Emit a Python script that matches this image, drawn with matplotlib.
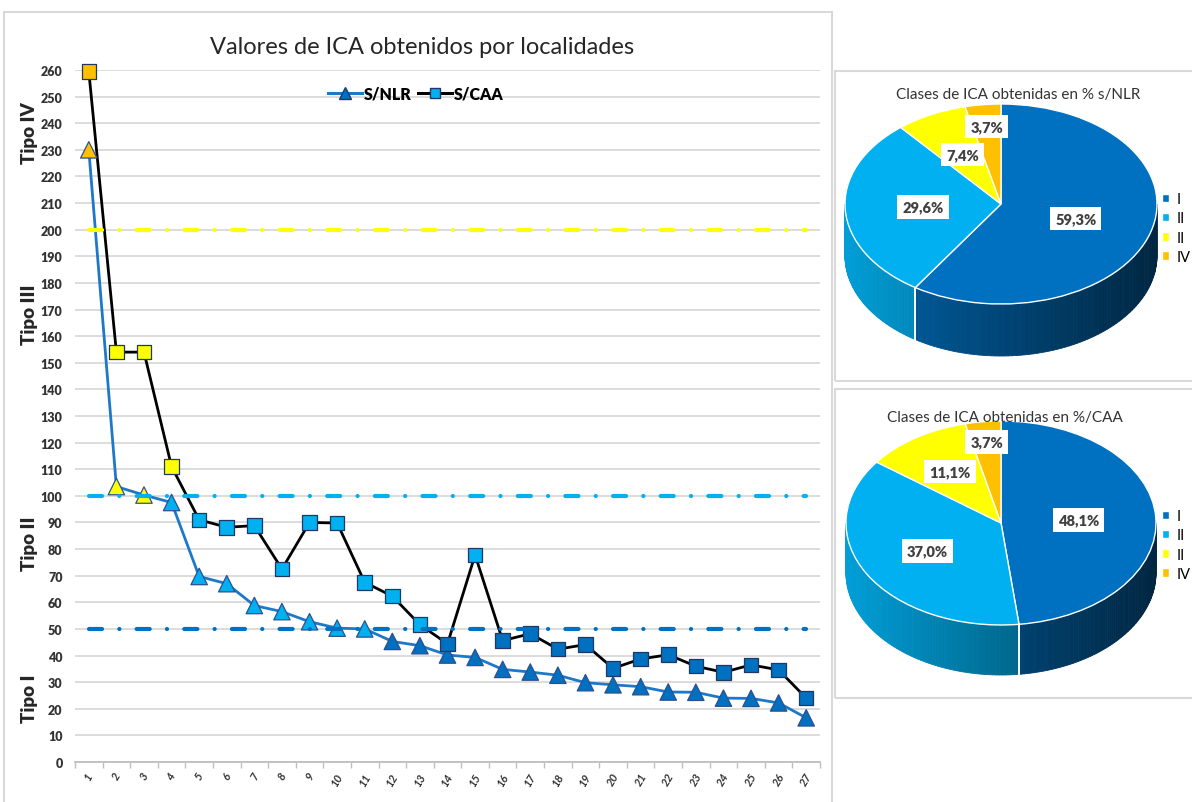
import numpy as np
import matplotlib
matplotlib.use("Agg")
import matplotlib.pyplot as plt
from matplotlib.lines import Line2D
from matplotlib.patches import Rectangle, Polygon
from matplotlib import font_manager, colors as mcolors

# ---------------- data ----------------
localidades = list(range(1, 28))
s_nlr = [230, 103.5, 100.3, 97.5, 69.7, 67, 58.8, 56.5, 52.7, 50.3, 50, 45.3, 43.7, 40.2,
         39.3, 34.8, 33.8, 32.6, 29.8, 29.0, 28.3, 26.3, 26.2, 24.0, 23.9, 22.2, 16.6]
s_caa = [259.5, 154, 154, 111, 91, 88.2, 88.8, 72.5, 90, 89.8, 67.5, 62.3, 51.6, 44.4,
         77.8, 45.6, 48.2, 42.4, 44.1, 35.2, 38.7, 40.3, 36, 33.7, 36.5, 34.6, 24]
limites = [50, 100, 200]
y_ticks = list(range(0, 261, 10))
tipo_labels = ["Tipo IV", "Tipo III", "Tipo II", "Tipo I"]
pie_labels = ["I", "II", "II", "IV"]
nlr_counts = [16, 8, 2, 1]
caa_counts = [13, 10, 3, 1]

# ---------------- style ----------------
W, H = 1192, 803
DBLUE, LBLUE, YEL, ORA = "#0070C0", "#00B0F0", "#FFFF00", "#FFC000"
class_colors = [DBLUE, LBLUE, YEL, ORA]
names = {f.name for f in font_manager.fontManager.ttflist}
FONT = "Lato" if "Lato" in names else "DejaVu Sans"
FAM = [FONT, "DejaVu Sans"]
plt.rcParams["font.family"] = FAM
plt.rcParams["lines.scale_dashes"] = False


def clase(v):
    if v >= 200:
        return 3
    if v >= 100:
        return 2
    if v >= 50:
        return 1
    return 0


def px2fig(x0, y0, x1, y1):
    return [x0 / W, 1 - y1 / H, (x1 - x0) / W, (y1 - y0) / H]


fig = plt.figure(figsize=(W / 100, H / 100), dpi=100)
fig.patch.set_facecolor("white")

# panel borders
for (x0, y0, x1, y1) in [(4, 13, 832, 806), (835, 72, 1196, 382), (835, 390, 1196, 699)]:
    fig.add_artist(Rectangle((x0 / W, 1 - y1 / H), (x1 - x0) / W, (y1 - y0) / H,
                             transform=fig.transFigure, fill=False, ec="#D9D9D9", lw=1.5))

# ---------------- line chart ----------------
ax = fig.add_axes(px2fig(75, 71, 820, 763))
ax.set_xlim(0.5, 27.5)
ax.set_ylim(0, 260)
ax.set_axisbelow(True)
ax.yaxis.grid(True, color="#D9D9D9", lw=1.3)
for s in ["top", "right", "left"]:
    ax.spines[s].set_visible(False)
ax.spines["bottom"].set_color("#BFBFBF")
ax.spines["bottom"].set_linewidth(1.3)
ax.set_yticks(y_ticks)
ax.set_yticklabels([str(v) for v in y_ticks], fontsize=9, fontweight="heavy", color="#333333")
ax.tick_params(axis="y", length=0, pad=9)
ax.set_xticks(localidades)
ax.set_xticklabels([str(v) for v in localidades], rotation=60, fontsize=8,
                   fontweight="bold", fontstyle="italic", color="#333333", ha="center", va="top")
ax.tick_params(axis="x", length=0, pad=6)
ax.set_xticks(np.arange(0.5, 28, 1), minor=True)
ax.tick_params(axis="x", which="minor", length=4, color="#BFBFBF", width=1)

# series lines
ax.plot(localidades, s_nlr, color="#1E78C8", lw=2, zorder=3, clip_on=False)
ax.plot(localidades, s_caa, color="black", lw=2, zorder=3, clip_on=False)
ax.scatter(localidades, s_nlr, marker="^", s=140, c=[class_colors[clase(v)] for v in s_nlr],
           edgecolors="#2F4F8F", linewidths=0.9, zorder=4, clip_on=False)
ax.scatter(localidades, s_caa, marker="s", s=110, c=[class_colors[clase(v)] for v in s_caa],
           edgecolors="#1F3864", linewidths=0.9, zorder=4, clip_on=False)

# reference lines (class limits)
for lim, col in zip(limites, [DBLUE, LBLUE, YEL]):
    ax.plot([localidades[0], localidades[-1]], [lim, lim], color=col, lw=3,
            dashes=(9.4, 12.4, 0.1, 12.4), dash_capstyle="round", zorder=5)

# title
fig.text(422 / W, 1 - 47 / H, "Valores de ICA obtenidos por localidades",
         ha="center", va="center", fontsize=17, color="#262626")

# legend
h1 = Line2D([], [], color="#1E78C8", lw=2.2, marker="^", markersize=8,
            mfc=DBLUE, mec="#1F3864")
h2 = Line2D([], [], color="black", lw=2.2, marker="s", markersize=7,
            mfc=LBLUE, mec="#1F3864")
fig.legend([h1, h2], ["S/NLR", "S/CAA"], loc="center", bbox_to_anchor=(416 / W, 1 - 95 / H),
           ncol=2, frameon=False, handlelength=2.1, columnspacing=0.4, handletextpad=0.15,
           prop=dict(family=FAM, weight="heavy", size=11.5))

# tipo labels
for lab, yc in zip(tipo_labels, [133, 315, 544, 699]):
    fig.text(30 / W, 1 - yc / H, lab, rotation=90, ha="center", va="center",
             fontsize=13.5, fontweight="heavy", color="#262626")


# ---------------- 3D-looking pies ----------------
def shade(col, f):
    r, g, b = mcolors.to_rgb(col)
    return (r * f, g * f, b * f)


def pie3d(counts, title, title_y, title_x, cx, cy, a, b, depth, box, dists, leg_y):
    x0, y0, x1, y1 = box
    pax = fig.add_axes(px2fig(x0, y0, x1, y1))
    total = sum(counts)
    fracs = [c / total for c in counts]
    d = depth / b
    cum = 0
    for f, col in zip(fracs, class_colors):
        t_start = 90 - 360 * cum
        t_end = 90 - 360 * (cum + f)
        lo, hi = max(t_end, -180), min(t_start, 0)
        if hi > lo:
            ts = np.radians(np.linspace(lo, hi, 80))
            for t1, t2 in zip(ts[:-1], ts[1:]):
                xm = (np.cos(t1) + np.cos(t2)) / 2
                c = shade(col, 0.62 - 0.28 * xm)
                poly = [(np.cos(t1), np.sin(t1)), (np.cos(t2), np.sin(t2)),
                        (np.cos(t2), np.sin(t2) - d), (np.cos(t1), np.sin(t1) - d)]
                pax.add_patch(Polygon(poly, closed=True, fc=c, ec=c, lw=0.6, zorder=1))
        for tb in (t_start, t_end):
            if -180 < tb < 0:
                tr = np.radians(tb)
                pax.plot([np.cos(tr), np.cos(tr)], [np.sin(tr), np.sin(tr) - d],
                         color="white", lw=1.2, zorder=1.5)
        cum += f
    wedges, _ = pax.pie(counts, colors=class_colors, startangle=90, counterclock=False,
                        wedgeprops=dict(edgecolor="white", linewidth=1.0), frame=True)
    for w in wedges:
        w.set_zorder(2)
    pax.set_aspect("auto")
    pax.set_xlim((x0 - cx) / a, (x1 - cx) / a)
    pax.set_ylim((cy - y1) / b, (cy - y0) / b)
    pax.axis("off")
    cum = 0
    for f, r in zip(fracs, dists):
        tm = np.radians(90 - 360 * (cum + f / 2))
        txt = f"{100 * f:.1f}%".replace(".", ",")
        pax.text(r * np.cos(tm), r * np.sin(tm), txt, ha="center", va="center", fontsize=10.5,
                 fontweight="heavy", color="#404040", zorder=5,
                 bbox=dict(boxstyle="square,pad=0.35", fc="white", ec="none"))
        cum += f
    fig.text(title_x / W, 1 - title_y / H, title, ha="center", va="center", fontsize=11,
             color="#333333")
    pax.legend(wedges, pie_labels, loc="center", bbox_to_anchor=(1176 / W, 1 - leg_y / H),
               bbox_transform=fig.transFigure, frameon=False, handlelength=0.5,
               handleheight=0.5, labelspacing=0.35, handletextpad=0.5, borderpad=0,
               prop=dict(family=FAM, size=10.5))


pie3d(nlr_counts, "Clases de ICA obtenidas en % s/NLR", 95, 1018, 1001, 205, 156, 100, 52,
      (836, 100, 1165, 375), [0.5, 0.5, 0.55, 0.78], 229)
pie3d(caa_counts, "Clases de ICA obtenidas en %/CAA", 418, 1005, 1001, 524, 155, 102, 50,
      (836, 420, 1165, 695), [0.5, 0.55, 0.6, 0.8], 546)

fig.savefig("out.png", dpi=100, facecolor="white")
